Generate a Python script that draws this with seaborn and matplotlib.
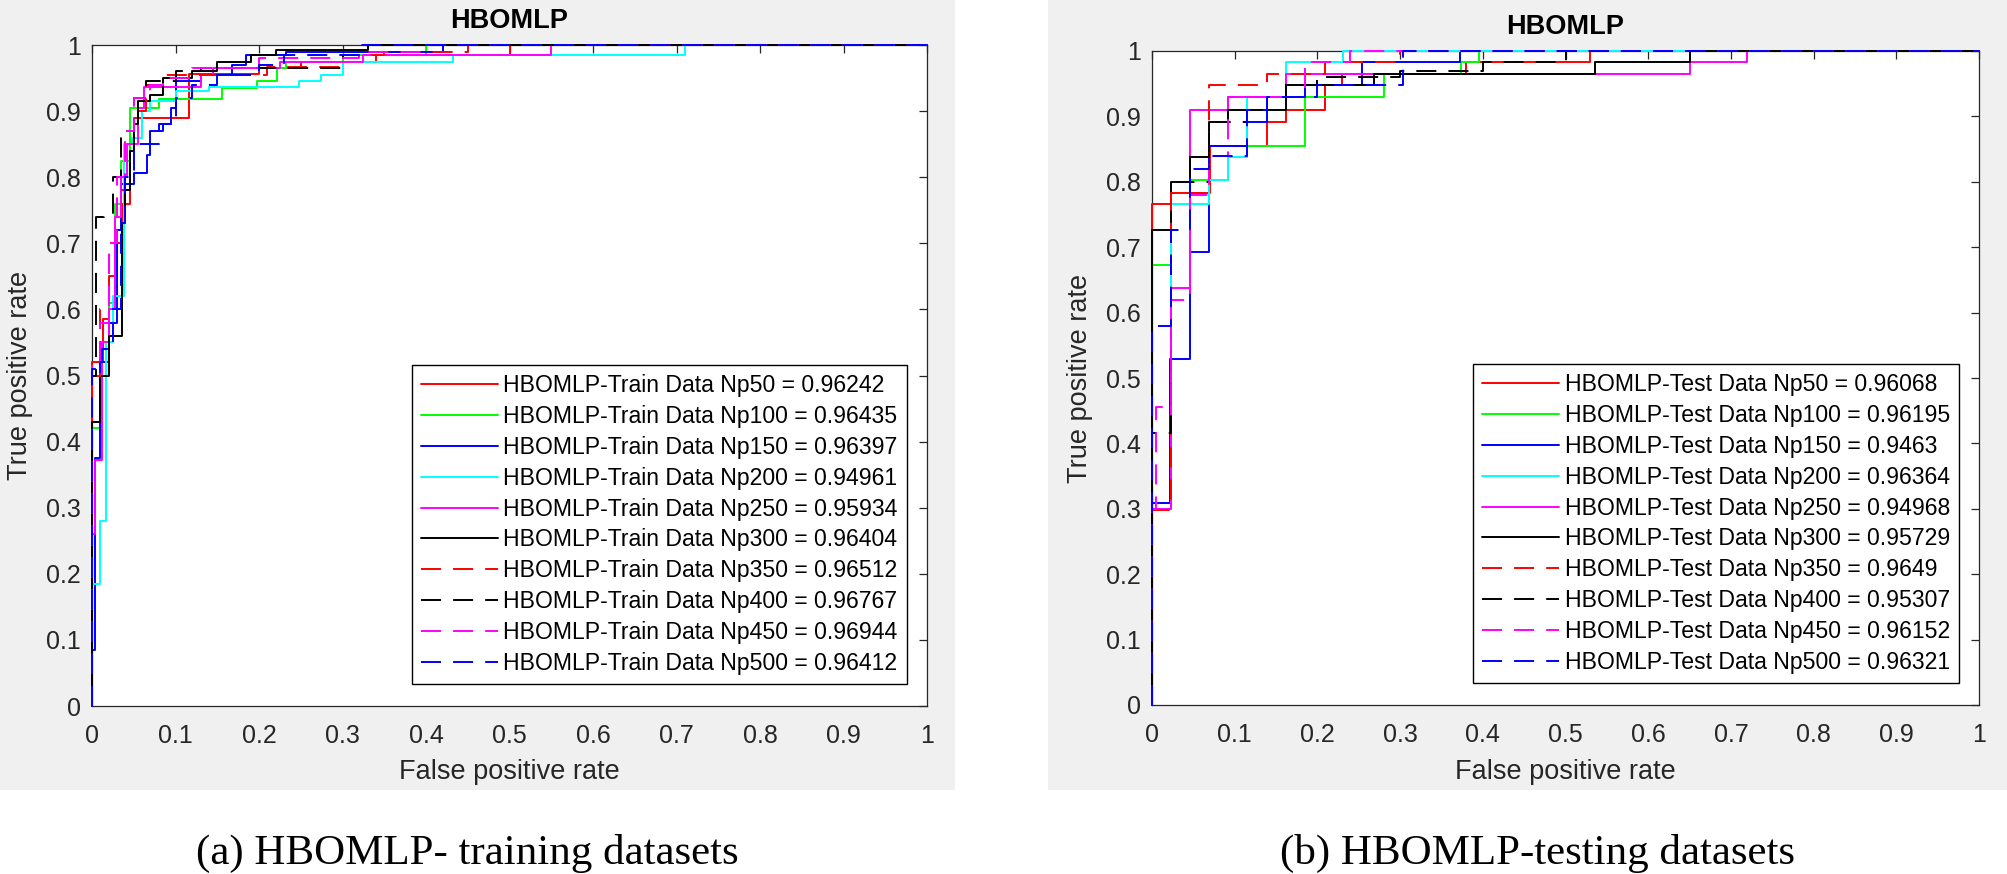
import matplotlib
matplotlib.use("Agg")
import matplotlib.pyplot as plt
from matplotlib.patches import Rectangle
import pandas as pd
import seaborn as sns

# ---- data (ROC step points) ----
np_sizes = [50, 100, 150, 200, 250, 300, 350, 400, 450, 500]
train_auc = ["0.96242", "0.96435", "0.96397", "0.94961", "0.95934",
             "0.96404", "0.96512", "0.96767", "0.96944", "0.96412"]
test_auc = ["0.96068", "0.96195", "0.9463", "0.96364", "0.94968",
            "0.95729", "0.9649", "0.95307", "0.96152", "0.96321"]

train_fpr_np50 = [0, 0, 0.013, 0.02, 0.03, 0.036, 0.045, 0.05, 0.116, 0.2, 0.25, 0.34, 0.5, 1]
train_tpr_np50 = [0, 0.52, 0.585, 0.65, 0.70, 0.76, 0.87, 0.889, 0.956, 0.965, 0.975, 0.985, 1.0, 1.0]
train_fpr_np100 = [0, 0, 0.01, 0.02, 0.028, 0.035, 0.046, 0.08, 0.156, 0.198, 0.222, 0.232, 0.3, 0.4, 1]
train_tpr_np100 = [0, 0.42, 0.55, 0.61, 0.76, 0.825, 0.905, 0.919, 0.935, 0.945, 0.965, 0.975, 0.985, 1.0, 1.0]
train_fpr_np150 = [0, 0, 0.004, 0.01, 0.02, 0.03, 0.035, 0.05, 0.066, 0.07, 0.085, 0.095, 0.1, 0.13, 0.168, 0.185, 0.232, 0.42, 1]
train_tpr_np150 = [0, 0.085, 0.375, 0.52, 0.58, 0.72, 0.79, 0.806, 0.834, 0.87, 0.88, 0.905, 0.945, 0.955, 0.97, 0.985, 0.99, 1.0, 1.0]
train_fpr_np200 = [0, 0, 0.01, 0.017, 0.025, 0.038, 0.048, 0.06, 0.07, 0.1, 0.14, 0.248, 0.274, 0.3, 0.432, 0.71, 1]
train_tpr_np200 = [0, 0.185, 0.28, 0.55, 0.62, 0.85, 0.86, 0.9, 0.915, 0.93, 0.937, 0.945, 0.955, 0.975, 0.985, 1.0, 1.0]
train_fpr_np250 = [0, 0, 0.004, 0.012, 0.02, 0.028, 0.035, 0.042, 0.055, 0.062, 0.13, 0.145, 0.225, 0.325, 0.55, 1]
train_tpr_np250 = [0, 0.26, 0.372, 0.55, 0.6, 0.74, 0.8, 0.85, 0.905, 0.936, 0.955, 0.965, 0.975, 0.985, 1.0, 1.0]
train_fpr_np300 = [0, 0, 0.01, 0.02, 0.036, 0.04, 0.045, 0.05, 0.055, 0.07, 0.085, 0.12, 0.15, 0.19, 0.22, 0.33, 1]
train_tpr_np300 = [0, 0.43, 0.5, 0.56, 0.73, 0.78, 0.84, 0.88, 0.915, 0.925, 0.95, 0.96, 0.975, 0.985, 0.992, 1.0, 1.0]
train_fpr_np350 = [0, 0, 0.01, 0.02, 0.03, 0.04, 0.05, 0.065, 0.085, 0.21, 0.3, 0.35, 0.45, 1]
train_tpr_np350 = [0, 0.5, 0.6, 0.7, 0.78, 0.87, 0.9, 0.94, 0.955, 0.967, 0.985, 0.99, 1.0, 1.0]
train_fpr_np400 = [0, 0, 0.005, 0.014, 0.025, 0.035, 0.05, 0.065, 0.1, 0.13, 0.3, 0.33, 0.4, 1]
train_tpr_np400 = [0, 0.5, 0.74, 0.745, 0.8, 0.87, 0.92, 0.945, 0.96, 0.965, 0.985, 0.99, 1.0, 1.0]
train_fpr_np450 = [0, 0, 0.01, 0.02, 0.03, 0.04, 0.05, 0.07, 0.085, 0.12, 0.2, 0.32, 0.4, 1]
train_tpr_np450 = [0, 0.52, 0.58, 0.7, 0.8, 0.87, 0.92, 0.94, 0.95, 0.965, 0.98, 0.99, 1.0, 1.0]
train_fpr_np500 = [0, 0, 0.012, 0.025, 0.035, 0.04, 0.05, 0.08, 0.1, 0.12, 0.15, 0.2, 0.23, 0.32, 1]
train_tpr_np500 = [0, 0.51, 0.54, 0.6, 0.73, 0.8, 0.85, 0.88, 0.92, 0.94, 0.955, 0.97, 0.985, 1.0, 1.0]

test_fpr_np50 = [0, 0, 0.023, 0.07, 0.139, 0.162, 0.209, 0.23, 0.38, 0.53, 1]
test_tpr_np50 = [0, 0.766, 0.783, 0.855, 0.891, 0.91, 0.948, 0.965, 0.983, 1.0, 1.0]
test_fpr_np100 = [0, 0, 0.023, 0.046, 0.092, 0.115, 0.185, 0.28, 0.374, 0.395, 1]
test_tpr_np100 = [0, 0.673, 0.766, 0.802, 0.838, 0.855, 0.929, 0.965, 0.983, 1.0, 1.0]
test_fpr_np150 = [0, 0, 0.022, 0.046, 0.069, 0.115, 0.139, 0.185, 0.254, 0.372, 1]
test_tpr_np150 = [0, 0.309, 0.529, 0.692, 0.855, 0.891, 0.929, 0.948, 0.983, 1.0, 1.0]
test_fpr_np200 = [0, 0, 0.023, 0.069, 0.092, 0.115, 0.162, 0.231, 1]
test_tpr_np200 = [0, 0.3, 0.766, 0.802, 0.838, 0.929, 0.983, 1.0, 1.0]
test_fpr_np250 = [0, 0, 0.023, 0.046, 0.092, 0.162, 0.65, 0.72, 1]
test_tpr_np250 = [0, 0.3, 0.638, 0.91, 0.929, 0.965, 0.983, 1.0, 1.0]
test_fpr_np300 = [0, 0, 0.023, 0.046, 0.069, 0.092, 0.162, 0.268, 0.536, 0.65, 1]
test_tpr_np300 = [0, 0.727, 0.8, 0.838, 0.891, 0.91, 0.948, 0.965, 0.983, 1.0, 1.0]
test_fpr_np350 = [0, 0, 0.023, 0.069, 0.139, 0.209, 0.3, 1]
test_tpr_np350 = [0, 0.298, 0.783, 0.948, 0.965, 0.983, 1.0, 1.0]
test_fpr_np400 = [0, 0, 0.023, 0.046, 0.069, 0.115, 0.162, 0.2, 0.3, 0.4, 0.5, 1]
test_tpr_np400 = [0, 0.416, 0.727, 0.8, 0.891, 0.91, 0.948, 0.96, 0.97, 0.983, 1.0, 1.0]
test_fpr_np450 = [0, 0, 0.005, 0.023, 0.046, 0.069, 0.092, 0.185, 0.24, 1]
test_tpr_np450 = [0, 0.3, 0.455, 0.62, 0.78, 0.84, 0.93, 0.983, 1.0, 1.0]
test_fpr_np500 = [0, 0, 0.023, 0.046, 0.069, 0.115, 0.139, 0.2, 0.304, 1]
test_tpr_np500 = [0, 0.58, 0.727, 0.82, 0.84, 0.91, 0.93, 0.948, 1.0, 1.0]

train_curves = [
    (train_fpr_np50, train_tpr_np50), (train_fpr_np100, train_tpr_np100),
    (train_fpr_np150, train_tpr_np150), (train_fpr_np200, train_tpr_np200),
    (train_fpr_np250, train_tpr_np250), (train_fpr_np300, train_tpr_np300),
    (train_fpr_np350, train_tpr_np350), (train_fpr_np400, train_tpr_np400),
    (train_fpr_np450, train_tpr_np450), (train_fpr_np500, train_tpr_np500),
]
test_curves = [
    (test_fpr_np50, test_tpr_np50), (test_fpr_np100, test_tpr_np100),
    (test_fpr_np150, test_tpr_np150), (test_fpr_np200, test_tpr_np200),
    (test_fpr_np250, test_tpr_np250), (test_fpr_np300, test_tpr_np300),
    (test_fpr_np350, test_tpr_np350), (test_fpr_np400, test_tpr_np400),
    (test_fpr_np450, test_tpr_np450), (test_fpr_np500, test_tpr_np500),
]

# MATLAB-like colour / style cycle
colors = ["#ff0000", "#00ff00", "#0000ff", "#00ffff", "#ff00ff", "#000000",
          "#ff0000", "#000000", "#ff00ff", "#0000ff"]
dash = (0, (10.3, 6.2))
styles = ["-"] * 6 + [dash] * 4

sns.set_theme(style="white")
plt.rcParams["font.family"] = ["Liberation Sans", "DejaVu Sans"]

W, H = 2007, 874
fig = plt.figure(figsize=(W / 100, H / 100), dpi=100)
fig.patch.set_facecolor("white")

# grey MATLAB figure panels, kept behind the axes
for x0, x1 in [(0, 955), (1048, 2007)]:
    fig.add_artist(Rectangle((x0 / W, (H - 790) / H), (x1 - x0) / W, 790 / H,
                             transform=fig.transFigure, facecolor="#f0f0f0",
                             edgecolor="none", zorder=-10))

ax_train = fig.add_axes([92 / W, (H - 706) / H, (927 - 92) / W, (706 - 45) / H])
ax_test = fig.add_axes([1152 / W, (H - 705) / H, (1979 - 1152) / W, (705 - 51) / H])

text_col = "#262626"
ticks = [i / 10 for i in range(11)]
tick_labels = ["0"] + [f"{t:.1f}" for t in ticks[1:-1]] + ["1"]

panels = [
    (ax_train, train_curves, train_auc, "HBOMLP-Train Data", (410, 907, 362, 684), (92, 927, 45, 706), 20),
    (ax_test, test_curves, test_auc, "HBOMLP-Test Data", (1475, 1959, 364, 683), (1152, 1979, 51, 705), 1080),
]

for ax, curves, aucs, prefix, leg_box, ax_box, ylab_x in panels:
    ax.set_facecolor("white")
    for i, (fpr, tpr) in enumerate(curves):
        df = pd.DataFrame({"fpr": fpr, "tpr": tpr})
        sns.lineplot(data=df, x="fpr", y="tpr", ax=ax, estimator=None, sort=False,
                     drawstyle="steps-post", color=colors[i], linestyle=styles[i],
                     linewidth=1.4, label=f"{prefix} Np{np_sizes[i]} = {aucs[i]}",
                     clip_on=False, zorder=3)
    ax.set_xlim(0, 1)
    ax.set_ylim(0, 1)
    ax.set_xticks(ticks)
    ax.set_yticks(ticks)
    ax.set_xticklabels(tick_labels)
    ax.set_yticklabels(tick_labels)
    ax.tick_params(direction="in", length=6, width=0.9, top=True, right=True,
                   labelsize=18, colors=text_col, labelcolor=text_col)
    ax.tick_params(axis="x", pad=13)
    ax.tick_params(axis="y", pad=8)
    for sp in ax.spines.values():
        sp.set_color(text_col)
        sp.set_linewidth(0.9)
        sp.set_visible(True)

    x0, x1, y0, y1 = ax_box
    aw, ah = x1 - x0, y1 - y0
    ax.set_xlabel("False positive rate", fontsize=19.5, color=text_col)
    ax.set_ylabel("True positive rate", fontsize=19.5, color=text_col)
    ax.xaxis.set_label_coords(0.5, (y1 - 772) / ah)
    ax.xaxis.label.set_va("center")
    ax.yaxis.set_label_coords((ylab_x - x0) / aw, 0.5)
    ax.yaxis.label.set_va("center")
    ax.text(0.5, 1 + 24 / ah, "HBOMLP", transform=ax.transAxes, ha="center",
            va="center", fontsize=19.5, fontweight="bold", color="black")

    lx0, lx1, ly0, ly1 = leg_box
    leg = ax.legend(loc="lower right", bbox_to_anchor=((lx1 - x0) / aw, (y1 - ly1) / ah),
                    borderaxespad=0, fontsize=16.6, frameon=True, fancybox=False,
                    edgecolor="black", framealpha=1, handlelength=3.35,
                    handletextpad=0.22, borderpad=0.4, labelspacing=0.34)
    leg.get_frame().set_linewidth(1.0)
    for t in leg.get_texts():
        t.set_color("black")

serif = ["Liberation Serif", "DejaVu Serif"]
fig.text(196 / W, (H - 864) / H, "(a) HBOMLP- training datasets", ha="left",
         va="baseline", fontsize=31, family=serif, color="black")
fig.text(1795 / W, (H - 864) / H, "(b) HBOMLP-testing datasets", ha="right",
         va="baseline", fontsize=31, family=serif, color="black")

fig.savefig("out.png", dpi=100, facecolor="white")
